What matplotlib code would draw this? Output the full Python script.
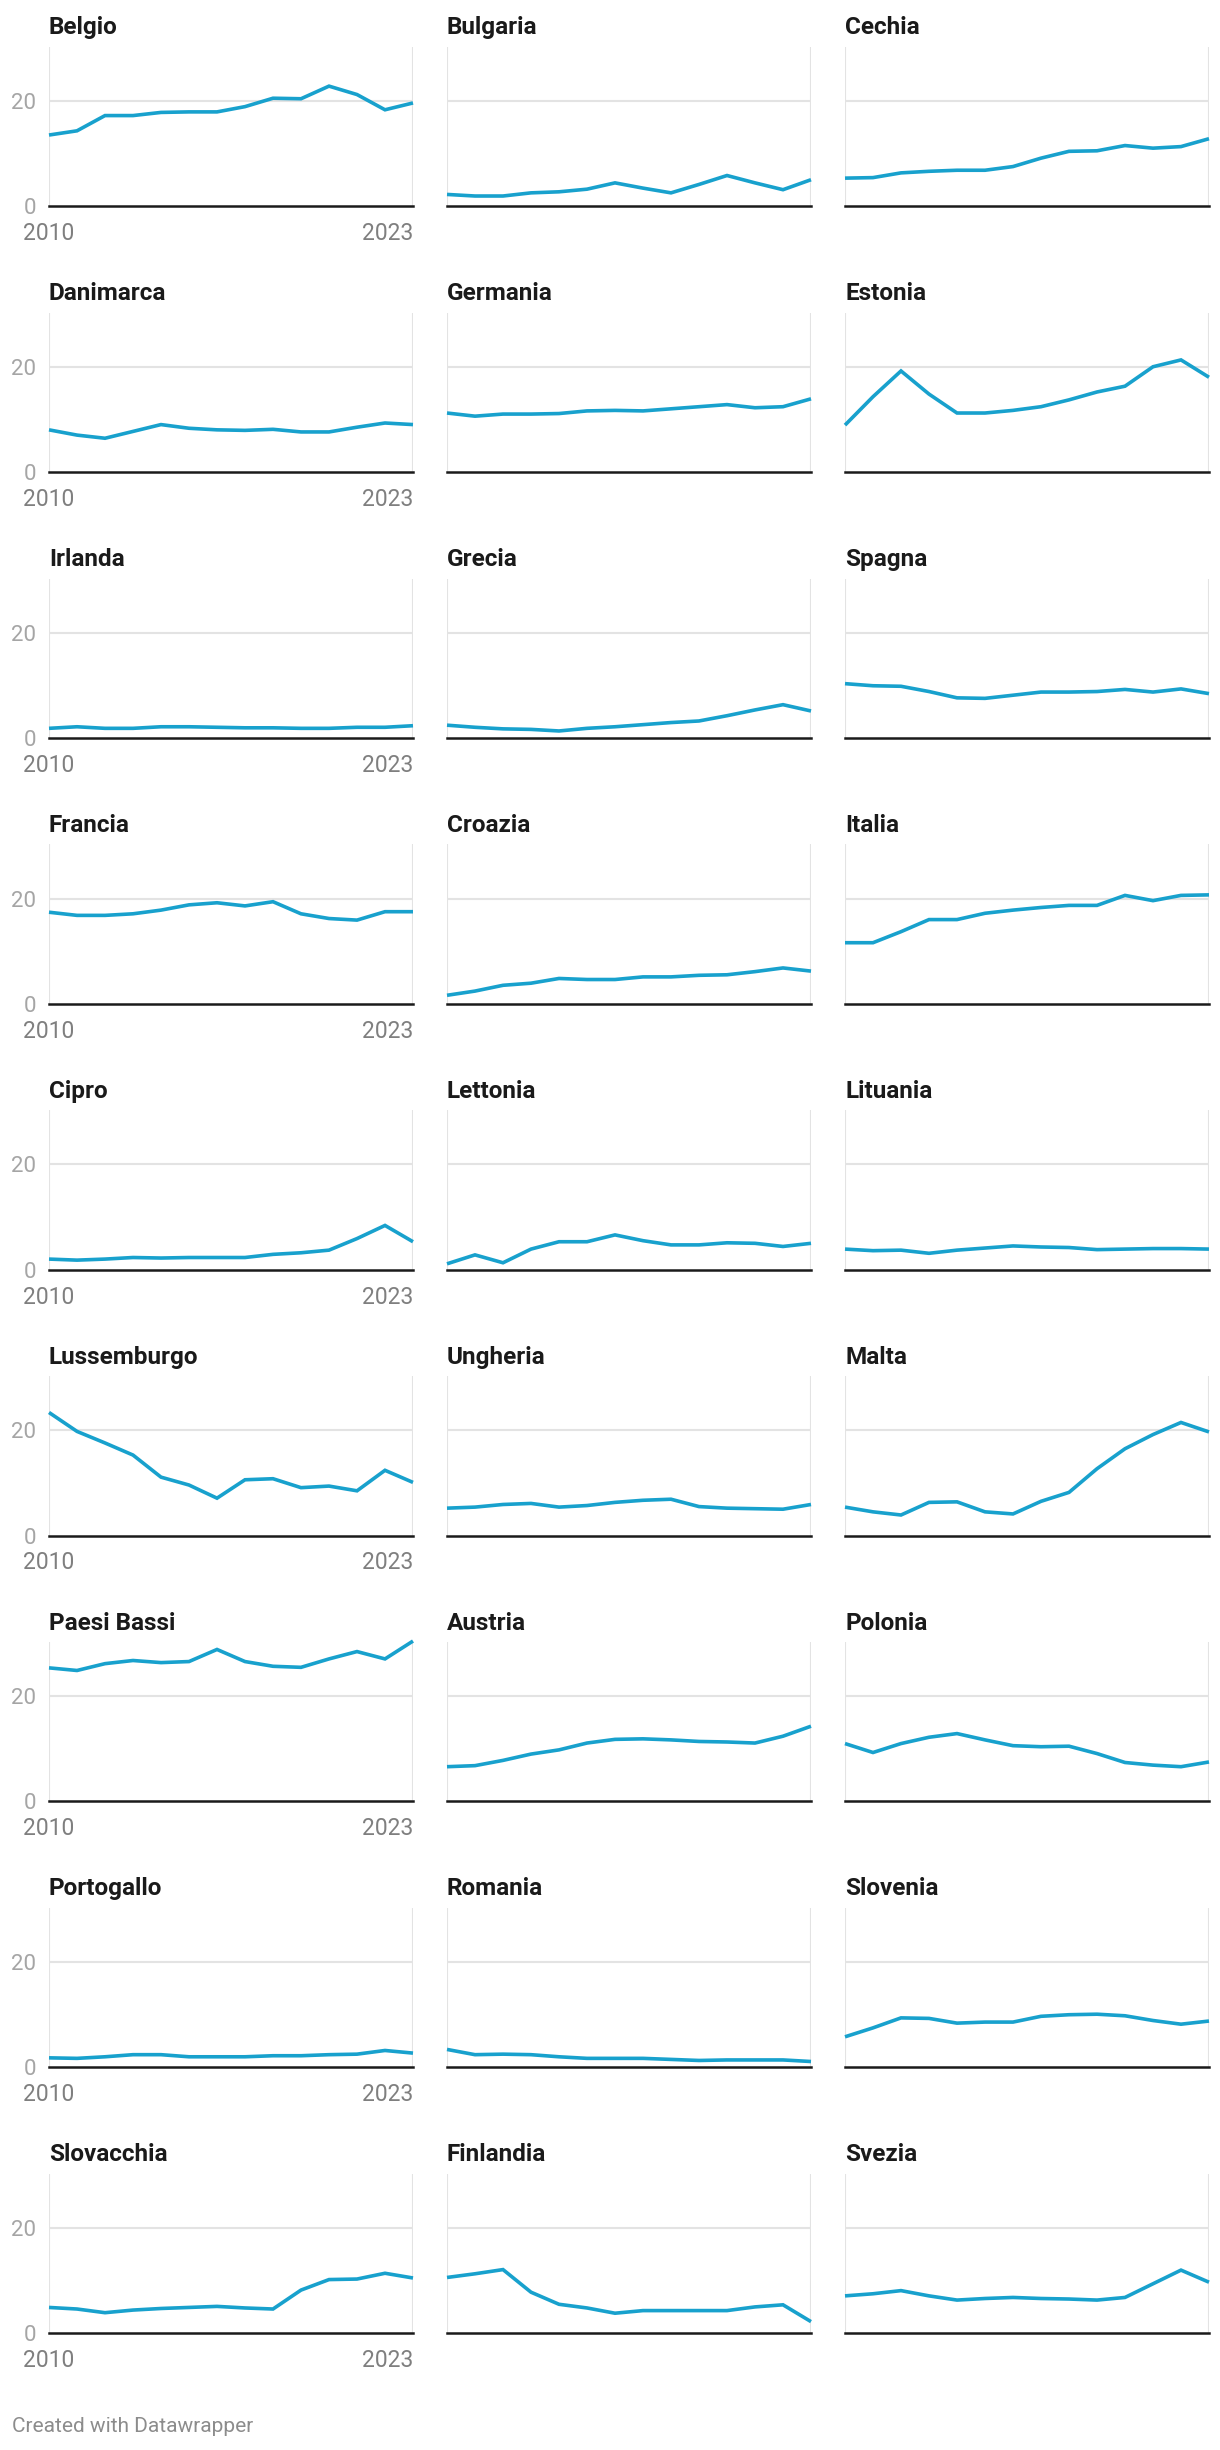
import matplotlib
matplotlib.use("Agg")
import matplotlib.pyplot as plt

plt.rcParams['font.family'] = ['Roboto', 'DejaVu Sans']

years = list(range(2010, 2024))

belgio      = [13.5, 14.3, 17.2, 17.2, 17.8, 17.9, 17.9, 18.9, 20.5, 20.4, 22.8, 21.2, 18.3, 19.6]
bulgaria    = [2.2, 1.9, 1.9, 2.5, 2.7, 3.2, 4.4, 3.4, 2.5, 4.1, 5.8, 4.4, 3.1, 5.0]
cechia      = [5.3, 5.4, 6.3, 6.6, 6.8, 6.8, 7.5, 9.1, 10.4, 10.5, 11.5, 11.0, 11.3, 12.8]
danimarca   = [8.0, 7.0, 6.4, 7.7, 9.0, 8.3, 8.0, 7.9, 8.1, 7.6, 7.6, 8.5, 9.3, 9.0]
germania    = [11.2, 10.6, 11.0, 11.0, 11.1, 11.6, 11.7, 11.6, 12.0, 12.4, 12.8, 12.2, 12.4, 13.9]
estonia     = [8.9, 14.3, 19.2, 14.8, 11.2, 11.2, 11.7, 12.4, 13.7, 15.2, 16.3, 20.0, 21.3, 18.0]
irlanda     = [1.8, 2.1, 1.8, 1.8, 2.1, 2.1, 2.0, 1.9, 1.9, 1.8, 1.8, 2.0, 2.0, 2.3]
grecia      = [2.4, 2.0, 1.7, 1.6, 1.3, 1.8, 2.1, 2.5, 2.9, 3.2, 4.2, 5.3, 6.3, 5.1]
spagna      = [10.3, 9.9, 9.8, 8.8, 7.6, 7.5, 8.1, 8.7, 8.7, 8.8, 9.2, 8.7, 9.3, 8.4]
francia     = [17.4, 16.8, 16.8, 17.1, 17.8, 18.8, 19.2, 18.6, 19.4, 17.1, 16.2, 15.9, 17.5, 17.5]
croazia     = [1.6, 2.4, 3.5, 3.9, 4.8, 4.6, 4.6, 5.1, 5.1, 5.4, 5.5, 6.1, 6.8, 6.2]
italia      = [11.6, 11.6, 13.7, 16.0, 16.0, 17.2, 17.8, 18.3, 18.7, 18.7, 20.6, 19.6, 20.6, 20.7]
cipro       = [2.0, 1.8, 2.0, 2.3, 2.2, 2.3, 2.3, 2.3, 2.9, 3.2, 3.7, 5.9, 8.4, 5.3]
lettonia    = [1.1, 2.8, 1.3, 3.9, 5.3, 5.3, 6.6, 5.5, 4.7, 4.7, 5.1, 5.0, 4.4, 5.0]
lituania    = [3.9, 3.6, 3.7, 3.1, 3.7, 4.1, 4.5, 4.3, 4.2, 3.8, 3.9, 4.0, 4.0, 3.9]
lussemburgo = [23.4, 19.8, 17.6, 15.3, 11.1, 9.6, 7.1, 10.6, 10.8, 9.1, 9.4, 8.5, 12.4, 10.1]
ungheria    = [5.2, 5.4, 5.9, 6.1, 5.4, 5.7, 6.3, 6.7, 6.9, 5.5, 5.2, 5.1, 5.0, 5.9]
malta       = [5.4, 4.5, 3.9, 6.3, 6.4, 4.5, 4.1, 6.5, 8.2, 12.7, 16.5, 19.2, 21.5, 19.7]
paesi_bassi = [25.4, 24.9, 26.2, 26.8, 26.4, 26.6, 28.9, 26.6, 25.7, 25.5, 27.1, 28.5, 27.1, 30.5]
austria     = [6.6, 6.8, 7.8, 9.0, 9.8, 11.1, 11.8, 11.9, 11.7, 11.4, 11.3, 11.1, 12.4, 14.3]
polonia     = [11.0, 9.3, 11.0, 12.2, 12.9, 11.7, 10.6, 10.4, 10.5, 9.1, 7.4, 6.9, 6.6, 7.5]
portogallo  = [1.8, 1.7, 2.0, 2.4, 2.4, 2.0, 2.0, 2.0, 2.2, 2.2, 2.4, 2.5, 3.2, 2.7]
romania     = [3.4, 2.4, 2.5, 2.4, 2.0, 1.7, 1.7, 1.7, 1.5, 1.3, 1.4, 1.4, 1.4, 1.1]
slovenia    = [5.8, 7.5, 9.4, 9.3, 8.4, 8.6, 8.6, 9.7, 10.0, 10.1, 9.8, 8.9, 8.2, 8.8]
slovacchia  = [4.9, 4.6, 3.9, 4.4, 4.7, 4.9, 5.1, 4.8, 4.6, 8.2, 10.2, 10.3, 11.4, 10.5]
finlandia   = [10.6, 11.3, 12.1, 7.8, 5.5, 4.8, 3.8, 4.3, 4.3, 4.3, 4.3, 5.0, 5.4, 2.2]
svezia      = [7.1, 7.5, 8.1, 7.1, 6.3, 6.6, 6.8, 6.6, 6.5, 6.3, 6.8, 9.4, 12.0, 9.7]

countries = ["Belgio", "Bulgaria", "Cechia", "Danimarca", "Germania", "Estonia",
             "Irlanda", "Grecia", "Spagna", "Francia", "Croazia", "Italia",
             "Cipro", "Lettonia", "Lituania", "Lussemburgo", "Ungheria", "Malta",
             "Paesi Bassi", "Austria", "Polonia", "Portogallo", "Romania", "Slovenia",
             "Slovacchia", "Finlandia", "Svezia"]
series = [belgio, bulgaria, cechia, danimarca, germania, estonia,
          irlanda, grecia, spagna, francia, croazia, italia,
          cipro, lettonia, lituania, lussemburgo, ungheria, malta,
          paesi_bassi, austria, polonia, portogallo, romania, slovenia,
          slovacchia, finlandia, svezia]

W, H = 1220, 2450
fig = plt.figure(figsize=(W / 100, H / 100), dpi=100)

col_left = [49, 447, 845]
panel_w = 364
row_top0, row_base0, row_pitch = 46.7, 206.0, 265.9

blue = "#18a1cd"
grid = "#e3e3e3"

for i, (name, vals) in enumerate(zip(countries, series)):
    r, c = divmod(i, 3)
    top = row_top0 + r * row_pitch
    base = row_base0 + r * row_pitch
    ax = fig.add_axes([col_left[c] / W, 1 - base / H, panel_w / W, (base - top) / H])
    ax.set_xlim(2010, 2023)
    ax.set_ylim(0, 30.3)
    for s in ax.spines.values():
        s.set_visible(False)

    ax.axhline(20, color=grid, lw=1.5, zorder=1)
    ax.axvline(2010, color=grid, lw=1.5, zorder=1)
    ax.axvline(2023, color=grid, lw=1.5, zorder=1)
    ax.plot(years, vals, color=blue, lw=2.6, zorder=3, clip_on=False,
            solid_joinstyle='miter', solid_capstyle='butt')
    ax.axhline(0, color="#1a1a1a", lw=1.8, zorder=4, clip_on=False)

    ax.set_title(name, loc='left', fontsize=17.5, fontweight='bold',
                 color="#1a1a1a", pad=9)

    ax.tick_params(length=0)
    if c == 0:
        ax.set_yticks([0, 20])
        ax.set_yticklabels(["0", "20"], fontsize=16, color="#a5a5a5")
        ax.tick_params(axis='y', pad=9.5)
        ax.set_xticks([2010, 2023])
        ax.set_xticklabels(["2010", "2023"], fontsize=16.5, color="#7f7f7f")
        ax.tick_params(axis='x', pad=11.5)
        ax.get_xticklabels()[-1].set_horizontalalignment('right')
    else:
        ax.set_yticks([])
        ax.set_xticks([])

fig.text(11.5 / W, 1 - 2427 / H, "Created with Datawrapper", fontsize=15,
         color="#8c8c8c", va='center', ha='left')

fig.savefig("out.png", dpi=100, facecolor="white")
